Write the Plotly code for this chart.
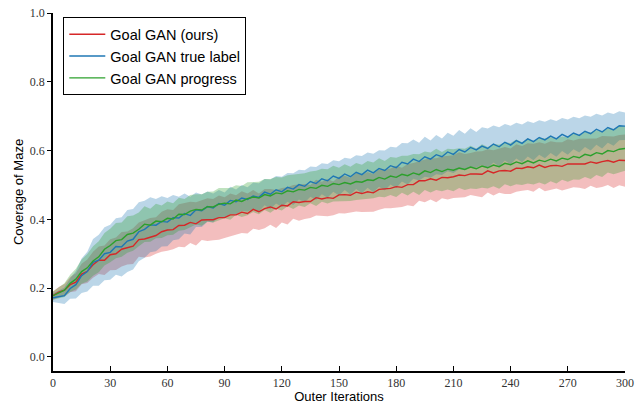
import plotly.graph_objects as go

# outer iterations (every 3rd iteration)
iters = list(range(0, 301, 3))

ours_mean = [
    .178, .188, .194, .210, .217, .241, .249, .268, .281, .281,
    .297, .300, .313, .317, .322, .341, .343, .348, .353, .364,
    .369, .370, .382, .383, .391, .387, .398, .399, .399, .405,
    .405, .413, .413, .421, .417, .429, .422, .431, .436, .430,
    .441, .439, .451, .449, .452, .452, .463, .459, .463, .461,
    .471, .472, .470, .479, .475, .480, .477, .487, .488, .490,
    .495, .493, .501, .501, .512, .512, .518, .514, .522, .521,
    .524, .529, .527, .532, .532, .531, .541, .535, .541, .542,
    .540, .549, .548, .553, .550, .558, .551, .556, .557, .554,
    .561, .561, .563, .561, .567, .563, .568, .571, .566, .572,
    .571]
ours_std = [
    .012, .015, .018, .022, .026, .030, .034, .038, .040, .043,
    .045, .047, .050, .048, .052, .050, .054, .056, .053, .058,
    .060, .057, .062, .064, .060, .063, .058, .062, .060, .064,
    .059, .062, .057, .061, .058, .056, .053, .057, .052, .055,
    .050, .054, .049, .053, .051, .048, .052, .050, .054, .049,
    .053, .055, .051, .056, .054, .058, .055, .059, .056, .058,
    .061, .057, .060, .063, .058, .062, .060, .064, .061, .063,
    .062, .066, .063, .061, .065, .067, .063, .066, .064, .068,
    .066, .069, .065, .068, .070, .066, .069, .071, .067, .070,
    .072, .068, .071, .073, .069, .072, .074, .071, .075, .073,
    .076]

true_mean = [
    .172, .176, .178, .199, .210, .236, .248, .275, .281, .300,
    .304, .321, .320, .337, .342, .364, .371, .384, .383, .394,
    .392, .405, .404, .417, .411, .428, .425, .437, .433, .446,
    .441, .455, .451, .462, .458, .468, .464, .479, .473, .486,
    .480, .493, .488, .501, .496, .510, .504, .518, .512, .526,
    .519, .532, .524, .537, .530, .543, .535, .548, .542, .556,
    .550, .566, .561, .575, .568, .582, .575, .588, .582, .596,
    .589, .603, .596, .609, .602, .613, .606, .619, .611, .624,
    .616, .629, .621, .634, .626, .638, .631, .642, .634, .647,
    .639, .651, .644, .656, .649, .662, .654, .667, .660, .672,
    .671]
true_std = [
    .012, .018, .024, .030, .040, .050, .058, .068, .074, .077,
    .080, .082, .086, .090, .088, .086, .083, .080, .076, .073,
    .070, .066, .062, .058, .055, .050, .047, .044, .042, .039,
    .037, .040, .036, .038, .035, .039, .041, .038, .043, .040,
    .044, .042, .046, .043, .047, .044, .048, .045, .049, .046,
    .050, .047, .052, .049, .054, .051, .056, .053, .058, .055,
    .059, .056, .060, .057, .055, .058, .054, .057, .053, .056,
    .054, .057, .053, .056, .052, .055, .058, .054, .057, .053,
    .056, .052, .055, .051, .054, .050, .053, .049, .052, .048,
    .051, .047, .050, .046, .049, .045, .048, .044, .046, .042,
    .040]

prog_mean = [
    .178, .187, .194, .214, .226, .248, .259, .279, .291, .313,
    .324, .338, .341, .356, .360, .371, .386, .383, .395, .393,
    .403, .401, .415, .414, .424, .429, .427, .437, .436, .444,
    .447, .445, .456, .452, .460, .465, .462, .472, .468, .477,
    .474, .483, .480, .487, .485, .493, .490, .499, .496, .504,
    .501, .507, .503, .510, .508, .515, .513, .522, .517, .526,
    .522, .531, .527, .535, .530, .541, .536, .545, .539, .546,
    .543, .549, .545, .552, .547, .555, .550, .558, .553, .563,
    .559, .567, .562, .570, .564, .572, .568, .575, .570, .578,
    .574, .583, .579, .589, .585, .594, .590, .600, .597, .604,
    .606]
prog_std = [
    .012, .016, .020, .025, .030, .035, .040, .043, .045, .047,
    .049, .051, .050, .053, .051, .049, .052, .048, .050, .047,
    .049, .046, .048, .045, .047, .044, .046, .043, .045, .047,
    .044, .046, .043, .045, .048, .044, .047, .045, .049, .046,
    .048, .045, .050, .047, .049, .046, .051, .048, .050, .052,
    .049, .053, .050, .054, .051, .055, .052, .056, .053, .055,
    .057, .054, .058, .055, .059, .056, .058, .060, .057, .059,
    .061, .058, .060, .062, .059, .063, .060, .062, .064, .061,
    .063, .065, .062, .066, .063, .065, .067, .064, .066, .063,
    .065, .067, .064, .066, .068, .065, .067, .064, .066, .068,
    .065]

series = [
    ('Goal GAN (ours)', ours_mean, ours_std, '#d62728', 'rgba(214,39,40,0.3)'),
    ('Goal GAN true label', true_mean, true_std, '#1f77b4', 'rgba(31,119,180,0.3)'),
    ('Goal GAN progress', prog_mean, prog_std, '#2ca02c', 'rgba(44,160,44,0.3)'),
]

fig = go.Figure()

# shaded mean +/- std bands first
for name, m, s, col, fillcol in series:
    lo = [a - b for a, b in zip(m, s)]
    hi = [a + b for a, b in zip(m, s)]
    fig.add_trace(go.Scatter(x=iters, y=lo, mode='lines', line=dict(width=0),
                             showlegend=False, hoverinfo='skip'))
    fig.add_trace(go.Scatter(x=iters, y=hi, mode='lines', line=dict(width=0),
                             fill='tonexty', fillcolor=fillcol,
                             showlegend=False, hoverinfo='skip'))

for name, m, s, col, fillcol in series:
    fig.add_trace(go.Scatter(x=iters, y=m, mode='lines', name=name,
                             line=dict(color=col, width=1.4)))

tickfont = dict(family='Liberation Serif, DejaVu Serif, serif', size=12, color='#333')
titlefont = dict(family='Liberation Sans, Arial, sans-serif', size=13, color='black')

fig.update_layout(
    width=638, height=404,
    margin=dict(l=53, r=13, t=13, b=33),
    plot_bgcolor='white', paper_bgcolor='white',
    xaxis=dict(range=[0, 300], tickvals=list(range(0, 301, 30)),
               ticks='inside', ticklen=5, tickcolor='black',
               showline=True, linecolor='black', linewidth=1.5,
               showgrid=False, zeroline=False, tickfont=tickfont,
               automargin=False,
               title=dict(text='Outer Iterations', font=titlefont, standoff=5)),
    yaxis=dict(range=[-0.041, 1.0], tickvals=[0, 0.2, 0.4, 0.6, 0.8, 1.0],
               ticktext=['0.0', '0.2', '0.4', '0.6', '0.8', '1.0'],
               ticks='outside', ticklen=4, tickcolor='black',
               showline=True, linecolor='black', linewidth=1.5,
               showgrid=False, zeroline=False, tickfont=tickfont,
               automargin=False,
               title=dict(text='Coverage of Maze', font=titlefont, standoff=3)),
    legend=dict(x=0.018, y=0.988, xanchor='left', yanchor='top',
                traceorder='normal', itemwidth=36,
                bgcolor='white', bordercolor='black', borderwidth=1,
                font=dict(family='Liberation Sans, Arial, sans-serif', size=14.5, color='black')),
    showlegend=True,
)

fig.write_html("out.html", config={'displayModeBar': False},
               post_script="document.body.style.margin='0';")
